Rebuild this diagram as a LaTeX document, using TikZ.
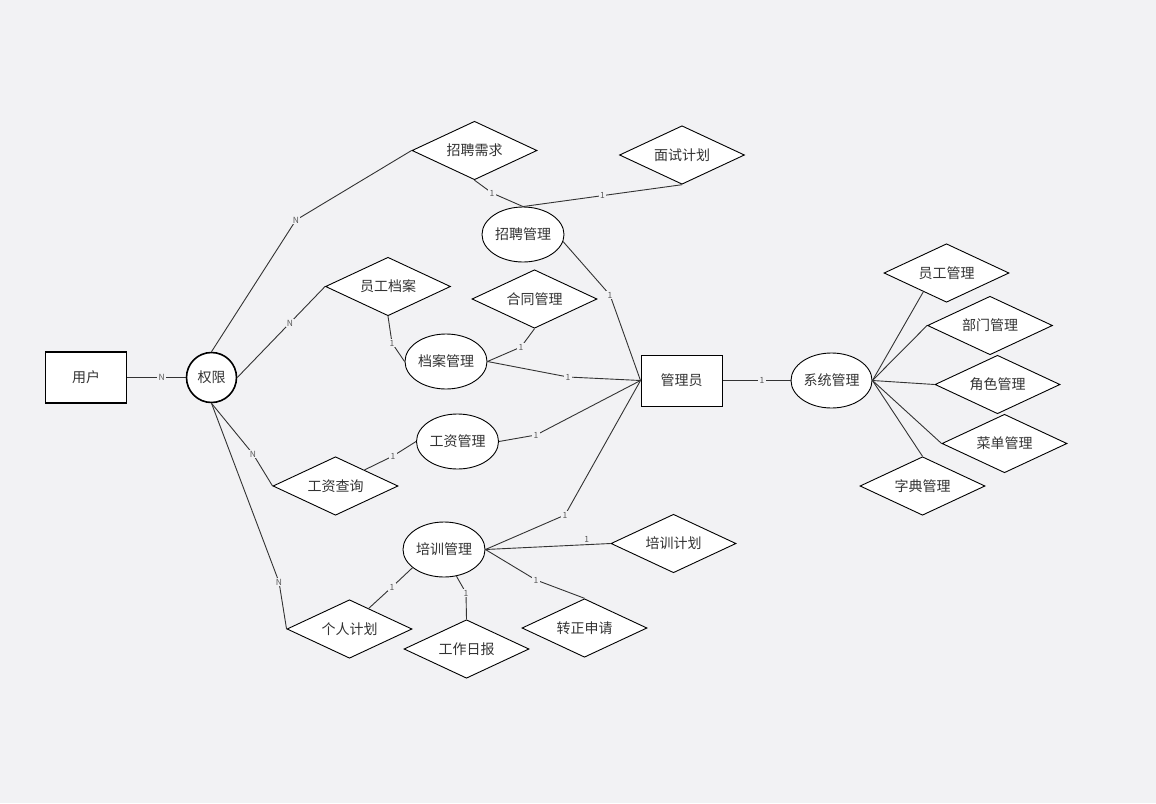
\documentclass[tikz,border=0pt]{standalone}
\usepackage{fontspec}
\setmainfont{Noto Sans CJK SC}
\usetikzlibrary{shapes.geometric}
\definecolor{bg}{RGB}{242,242,244}
\definecolor{ink}{RGB}{51,51,51}
\definecolor{lblc}{RGB}{90,90,90}
\begin{document}
\begin{tikzpicture}[x=1pt,y=-1pt,
  txt/.style={font=\fontsize{14}{16}\selectfont, text=ink},
  entity/.style={txt, draw=black, fill=white, line width=1pt, rectangle, minimum width=81pt, minimum height=51pt, inner sep=0pt},
  strong/.style={line width=1.6pt},
  attr/.style={txt, draw=black, fill=white, line width=0.9pt, ellipse, minimum width=82pt, minimum height=55pt, inner sep=0pt},
  circ/.style={txt, draw=black, fill=white, line width=1.6pt, circle, minimum size=50pt, inner sep=0pt},
  rel/.style={txt, draw=black, fill=white, line width=0.9pt, diamond, shape aspect=2.1, minimum width=125pt, minimum height=58.5pt, inner sep=0pt},
  edge/.style={draw=ink, line width=0.9pt},
  lbl/.style={font=\fontsize{8.5}{9}\selectfont, text=lblc, fill=bg, inner sep=1.2pt},
  lbln/.style={font=\fontsize{8.5}{9}\selectfont, text=lblc, inner sep=1pt}]
\fill[bg] (0,0) rectangle (1156,803);
\useasboundingbox (0,0) rectangle (1156,803);

% entities
\node[entity, strong] (yh) at (86,377.5) {用户};
\node[circ] (qx) at (211.5,377.5) {权限};
\node[entity] (gly) at (681.5,380.5) {管理员};

% attributes (ellipses)
\node[attr] (zpgl) at (523,234.5) {招聘管理};
\node[attr] (dagl) at (446,361.5) {档案管理};
\node[attr] (gzgl) at (457.5,441.5) {工资管理};
\node[attr] (pxgl) at (444,549.5) {培训管理};
\node[attr, minimum width=81pt] (xtgl) at (831.5,380.5) {系统管理};

% relationships (diamonds)
\node[rel] (zpxq) at (474.5,150.5) {招聘需求};
\node[rel] (mszh) at (682,155) {面试计划};
\node[rel] (ygda) at (388,286.5) {员工档案};
\node[rel] (htgl) at (534.5,299) {合同管理};
\node[rel] (gzcx) at (335.5,486) {工资查询};
\node[rel] (pxjh) at (673.5,543.5) {培训计划};
\node[rel] (grjh) at (349.5,629) {个人计划};
\node[rel] (gzrb) at (466.5,649) {工作日报};
\node[rel] (zzsq) at (584.5,628) {转正申请};
\node[rel] (yggl) at (946.5,273) {员工管理};
\node[rel] (bmgl) at (990,325.5) {部门管理};
\node[rel] (jsgl) at (997.5,384.5) {角色管理};
\node[rel] (cdgl) at (1004.5,443.5) {菜单管理};
\node[rel] (zdgl) at (922.5,486) {字典管理};

% bend coordinates (label positions)
\coordinate (b2) at (296,220);
\coordinate (b4) at (253,454);
\coordinate (b5) at (279,582);
\coordinate (b6) at (492,193);
\coordinate (b8) at (610,295);
\coordinate (b9) at (392,343);
\coordinate (b10) at (521,347);
\coordinate (b11) at (568,377);
\coordinate (b12) at (393,456);
\coordinate (b13) at (536,435);
\coordinate (b14) at (565,515);
\coordinate (b16) at (536,580);
\coordinate (b17) at (466,593);
\coordinate (b18) at (392,587);

% user / permission edges
\draw[edge] (yh.east) -- node[lbl, pos=0.59] (l1) {N} (qx.west);
\draw[edge] (qx.north) -- (b2) node[lbl] (l2) {N} -- (zpxq.west);
\draw[edge] (qx.east) -- node[lbl, pos=0.6] (l3) {N} (ygda.west);
\draw[edge] (qx.south) -- (b4) node[lbl] (l4) {N} -- (gzcx.west);
\draw[edge] (qx.south) -- (b5) node[lbl] (l5) {N} -- (grjh.west);

% recruitment
\draw[edge] (zpxq.south) -- (b6) node[lbl] (l6) {1} -- (zpgl.north);
\draw[edge] (mszh.south) -- node[lbl, pos=0.5] (l7) {1} (zpgl.north);
\draw[edge] (zpgl.-10) -- (b8) node[lbl] (l8) {1} -- (gly.west);

% archives
\draw[edge] (ygda.south) -- (b9) node[lbl] (l9) {1} -- (dagl.west);
\draw[edge] (htgl.south) -- (b10) node[lbl] (l10) {1} -- (dagl.east);
\draw[edge] (dagl.east) -- (b11) node[lbl] (l11) {1} -- (gly.west);

% salary
\draw[edge] (gzcx.29) -- (b12) node[lbl] (l12) {1} -- (gzgl.west);
\draw[edge] (gzgl.east) -- (b13) node[lbl] (l13) {1} -- (gly.west);

% training
\draw[edge] (pxgl.east) -- (b14) node[lbl] (l14) {1} -- (gly.west);
\draw[edge] (pxgl.east) -- node[lbln, pos=0.81, above=0.5pt] (l15) {1} (pxjh.west);
\draw[edge] (pxgl.east) -- (b16) node[lbl] (l16) {1} -- (zzsq.north);
\draw[edge] (pxgl.-65) -- (b17) node[lbl] (l17) {1} -- (gzrb.north);
\draw[edge] (pxgl.210) -- (b18) node[lbl] (l18) {1} -- (grjh.47);

% system
\draw[edge] (gly.east) -- node[lbl, pos=0.58] (l19) {1} (xtgl.west);
\draw[edge] (xtgl.east) -- (yggl.219.6);
\draw[edge] (xtgl.east) -- (bmgl.west);
\draw[edge] (xtgl.east) -- (jsgl.west);
\draw[edge] (xtgl.east) -- (cdgl.west);
\draw[edge] (xtgl.east) -- (zdgl.north);
\end{tikzpicture}
\end{document}
